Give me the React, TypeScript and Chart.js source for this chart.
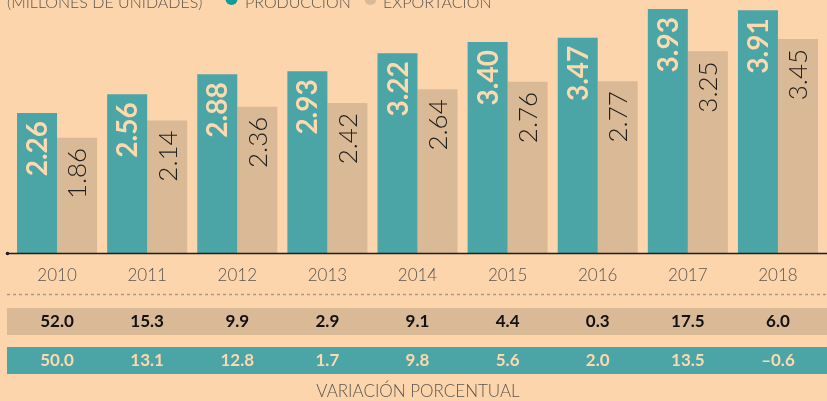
import React, { useEffect, useRef } from "react";
import { Chart, registerables } from "chart.js";

Chart.register(...registerables);

const years = ["2010", "2011", "2012", "2013", "2014", "2015", "2016", "2017", "2018"];
const produccion = [2.26, 2.56, 2.88, 2.93, 3.22, 3.4, 3.47, 3.93, 3.91];
const exportacion = [1.86, 2.14, 2.36, 2.42, 2.64, 2.76, 2.77, 3.25, 3.45];
const variacionExportacion = [52.0, 15.3, 9.9, 2.9, 9.1, 4.4, 0.3, 17.5, 6.0];
const variacionProduccion = [50.0, 13.1, 12.8, 1.7, 9.8, 5.6, 2.0, 13.5, -0.6];

const TEAL = "#4BA5A6";
const TAN = "#D9B996";
const BG = "#FCD5AC";
const CREAM = "#FDD9AE";
const FONT = "Lato, 'Open Sans', sans-serif";

const fmtPct = (v: number) => (v < 0 ? "\u2013" + Math.abs(v).toFixed(1) : v.toFixed(1));

const overlayPlugin = {
  id: "overlay",
  afterDatasetsDraw(chart: any) {
    const ctx = chart.ctx as CanvasRenderingContext2D;
    const x = chart.scales.x;
    const y = chart.scales.y;
    const base = y.getPixelForValue(0);
    const W = chart.width;

    // bar value labels (rotated)
    const drawLabels = (dsIndex: number, fmt: (v: number) => string, color: string, font: string, pad: number) => {
      const meta = chart.getDatasetMeta(dsIndex);
      const data = chart.data.datasets[dsIndex].data as number[];
      meta.data.forEach((bar: any, i: number) => {
        ctx.save();
        ctx.translate(bar.x + 1, bar.y + pad);
        ctx.rotate(-Math.PI / 2);
        ctx.font = font;
        ctx.fillStyle = color;
        ctx.textAlign = "right";
        ctx.textBaseline = "middle";
        ctx.fillText(fmt(data[i]), 0, 0);
        ctx.restore();
      });
    };
    drawLabels(0, (v) => v.toFixed(2), CREAM, `bold 28px ${FONT}`, 8);
    drawLabels(1, (v) => v.toFixed(2), "#1e1e1e", `300 26px ${FONT}`, 10);

    // baseline axis
    ctx.save();
    ctx.strokeStyle = "#1e1e1e";
    ctx.lineWidth = 1.5;
    ctx.beginPath();
    ctx.moveTo(7, base);
    ctx.lineTo(W, base);
    ctx.stroke();
    ctx.fillStyle = "#1e1e1e";
    ctx.beginPath();
    ctx.arc(7.5, base, 1.8, 0, Math.PI * 2);
    ctx.fill();
    ctx.restore();

    // year labels
    ctx.save();
    ctx.font = `300 17px ${FONT}`;
    ctx.fillStyle = "#5a5550";
    ctx.textAlign = "center";
    ctx.textBaseline = "middle";
    years.forEach((yr, i) => {
      ctx.fillText(yr, x.getPixelForValue(i), 276);
    });
    ctx.restore();

    // dotted separator
    ctx.save();
    ctx.strokeStyle = "#a8998a";
    ctx.lineWidth = 1.5;
    ctx.setLineDash([3, 3]);
    ctx.beginPath();
    ctx.moveTo(7, 294.5);
    ctx.lineTo(W, 294.5);
    ctx.stroke();
    ctx.restore();

    // bands
    ctx.save();
    ctx.fillStyle = TAN;
    ctx.fillRect(7, 308, W - 7, 27);
    ctx.fillStyle = TEAL;
    ctx.fillRect(7, 347, W - 7, 27);
    ctx.font = `bold 17px ${FONT}`;
    ctx.textAlign = "center";
    ctx.textBaseline = "middle";
    variacionExportacion.forEach((v, i) => {
      ctx.fillStyle = "#111";
      ctx.fillText(fmtPct(v), x.getPixelForValue(i), 322);
    });
    variacionProduccion.forEach((v, i) => {
      ctx.fillStyle = CREAM;
      ctx.fillText(fmtPct(v), x.getPixelForValue(i), 361);
    });
    ctx.restore();

    // footer
    ctx.save();
    ctx.font = `300 17px ${FONT}`;
    ctx.fillStyle = "#5a5550";
    ctx.textAlign = "center";
    ctx.textBaseline = "middle";
    ctx.fillText("VARIACIÓN PORCENTUAL", 418, 392);
    ctx.restore();

    // header (cut off at top)
    ctx.save();
    ctx.font = `300 16px ${FONT}`;
    ctx.fillStyle = "#5a5550";
    ctx.textAlign = "left";
    ctx.textBaseline = "alphabetic";
    ctx.fillText("(MILLONES DE UNIDADES)", 7, 8);
    ctx.fillText("PRODUCCIÓN", 245, 8);
    ctx.fillText("EXPORTACIÓN", 383, 8);
    ctx.fillStyle = "#0f9c9c";
    ctx.beginPath();
    ctx.arc(231.5, -1, 6, 0, Math.PI * 2);
    ctx.fill();
    ctx.fillStyle = TAN;
    ctx.beginPath();
    ctx.arc(370.5, -1, 6, 0, Math.PI * 2);
    ctx.fill();
    ctx.restore();
  },
};

export default function App() {
  const ref = useRef<HTMLCanvasElement | null>(null);
  useEffect(() => {
    if (!ref.current) return;
    const chart = new Chart(ref.current, {
      type: "bar",
      data: {
        labels: years,
        datasets: [
          {
            label: "PRODUCCIÓN",
            data: produccion,
            backgroundColor: TEAL,
            borderWidth: 0,
            categoryPercentage: 0.888,
            barPercentage: 1,
          },
          {
            label: "EXPORTACIÓN",
            data: exportacion,
            backgroundColor: TAN,
            borderWidth: 0,
            categoryPercentage: 0.888,
            barPercentage: 1,
          },
        ],
      },
      options: {
        responsive: false,
        animation: false,
        devicePixelRatio: 1,
        layout: { padding: { left: 12, right: 4, top: 4.7, bottom: 147.5 } },
        plugins: { legend: { display: false }, tooltip: { enabled: false } },
        scales: {
          x: { display: false },
          y: { display: false, min: 0, max: 4 },
        },
      },
      plugins: [overlayPlugin],
    });
    return () => chart.destroy();
  }, []);
  return (
    <div style={{ position: "fixed", left: 0, top: 0, width: 827, height: 401, background: BG }}>
      <canvas ref={ref} width={827} height={401} style={{ display: "block" }} />
    </div>
  );
}
